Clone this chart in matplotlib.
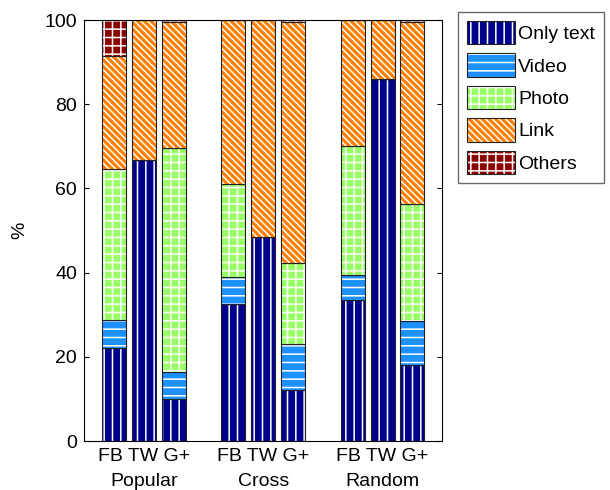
import matplotlib
matplotlib.use("Agg")
import matplotlib.pyplot as plt
from matplotlib.patches import Patch
from matplotlib.legend_handler import HandlerTuple
import numpy as np

plt.rcParams['font.family'] = ['Liberation Sans', 'DejaVu Sans']
plt.rcParams['hatch.linewidth'] = 1.1

groups = ["Popular", "Cross", "Random"]
networks = ["FB", "TW", "G+"]
categories = ["Only text", "Video", "Photo", "Link", "Others"]

# share (%) of each post type, per bar: Popular FB,TW,G+ / Cross FB,TW,G+ / Random FB,TW,G+
only_text = [22.0, 66.8, 10.0, 32.5, 48.5, 12.0, 33.5, 86.0, 18.0]
video     = [6.8, 0.0, 6.5, 6.5, 0.0, 11.0, 6.0, 0.0, 10.5]
photo     = [35.9, 0.0, 53.2, 22.0, 0.0, 19.3, 30.5, 0.0, 27.8]
link      = [26.8, 33.2, 29.8, 39.0, 51.5, 57.2, 30.0, 14.0, 43.2]
others    = [8.5, 0.0, 0.5, 0.0, 0.0, 0.5, 0.0, 0.0, 0.5]

series = [only_text, video, photo, link, others]
colors = ["#00008B", "#1E90FF", "#99FF66", "#FF7F00", "#8B0000"]
hatches = ["||", "--", "++", "\\\\\\\\\\", "++"]

pos = np.array([1, 2, 3, 5, 6, 7, 9, 10, 11])

fig = plt.figure(figsize=(6.1, 4.9), dpi=100)
ax = fig.add_axes([0.138, 0.1, 0.587, 0.859])

bottom = np.zeros(len(pos))
handles = []
for vals, c, h in zip(series, colors, hatches):
    vals = np.array(vals)
    ax.bar(pos, vals, 0.8, bottom=bottom, color=c, edgecolor="white",
           hatch=h, linewidth=0)
    ax.bar(pos, vals, 0.8, bottom=bottom, fill=False, edgecolor="#222222",
           linewidth=0.8)
    bottom += vals
    handles.append((Patch(facecolor=c, edgecolor="white", hatch=h, linewidth=0),
                    Patch(fill=False, edgecolor="#222222", linewidth=0.8)))

ax.set_xlim(0, 12)
ax.set_ylim(0, 100)
ax.set_yticks([0, 20, 40, 60, 80, 100])
# one label string per group, centred under the middle bar
ax.set_xticks(pos[1::3])
ax.set_xticklabels([" ".join(networks)] * 3)
ax.tick_params(axis="both", direction="in", labelsize=14, right=True, pad=5)
ax.tick_params(axis="x", length=0, pad=5)
ax.set_ylabel("%", fontsize=14, labelpad=12)

for i, g in enumerate(groups):
    ax.text(pos[i * 3 + 1], -0.076, g, transform=ax.get_xaxis_transform(),
            ha="center", va="top", fontsize=14)

leg = fig.legend(handles, categories, loc="upper left",
                 handler_map={tuple: HandlerTuple(ndivide=1, pad=0)},
                 bbox_to_anchor=(458 / 610, 1 - 12 / 490), fontsize=14,
                 frameon=True, fancybox=False, edgecolor="#444444",
                 handlelength=2.5, handleheight=1.5, handletextpad=0.15,
                 labelspacing=0.45, borderpad=0.45, borderaxespad=0)

fig.savefig("out.png", dpi=100)
